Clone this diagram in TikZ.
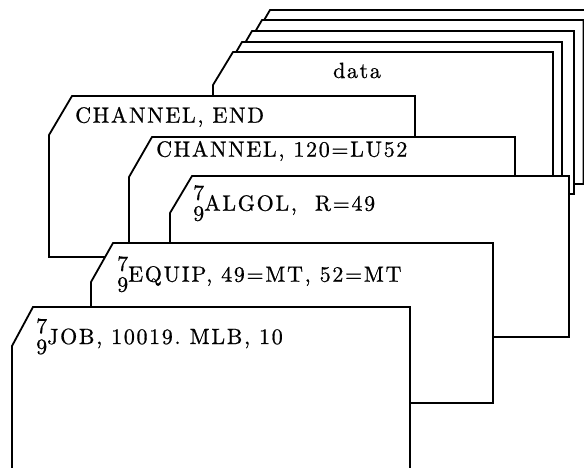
\documentclass[tikz,border=0pt]{standalone}
\usepackage{fontspec}
\newfontfamily\cardfont{lmroman10-regular}[Extension=.otf,LetterSpace=7.5,FakeBold=0.7]
\newcommand\cardshape[7]{%
  \filldraw[card] (#2+#6,#3) -- (#4,#3) -- (#4,#5) -- (#2,#5) -- (#2,#3+#7) -- cycle;%
  \coordinate (#1) at (#2,#3);}
\newcommand\sevnine{\makebox[0pt][l]{\raisebox{10.7pt}{7}}\raisebox{-10pt}{9}}
\begin{document}
\begin{tikzpicture}[x=1pt,y=-1pt,
  card/.style={draw=black,fill=white,line width=1.8pt,line join=miter},
  lbl/.style={anchor=base west,inner sep=0pt,
    font=\cardfont\fontsize{22}{26}\selectfont\frenchspacing}]
\useasboundingbox (0,0) rectangle (584,468);
\clip (0,0) rectangle (584,468);
% data stack (back to front)
\cardshape{d5}{249}{10}{600}{174}{21}{36}
\cardshape{d4}{241}{20}{583.5}{184}{21}{36}
\cardshape{d3}{231}{31}{574}{194}{21}{36}
\cardshape{d2}{221}{42}{562}{205}{21}{36}
\cardshape{d1}{213}{52}{553}{215}{20}{33}
\node[lbl,anchor=base] (data) at (357,78) {data};
% control cards
\cardshape{c1}{49}{96}{415}{257}{23}{39}
\node[lbl] (t1) at (75,122.7) {CHANNEL, END};
\cardshape{c2}{129}{137}{515}{298}{23}{40}
\node[lbl] (t2) at (156,156.7) {CHANNEL, 120=LU52};
\cardshape{c3}{170}{176}{569}{337}{22}{37}
\node[lbl] (t3) at (193,210.7) {\sevnine ALGOL,\ \ R=49};
\cardshape{c4}{91}{243}{493}{403}{22}{39}
\node[lbl] (t4) at (117,281.7) {\sevnine EQUIP, 49=MT, 52=MT};
\cardshape{c5}{12}{307}{410}{490}{21}{39}
\node[lbl] (t5) at (36,344) {\sevnine JOB, 10019. MLB, 10};
\end{tikzpicture}
\end{document}
